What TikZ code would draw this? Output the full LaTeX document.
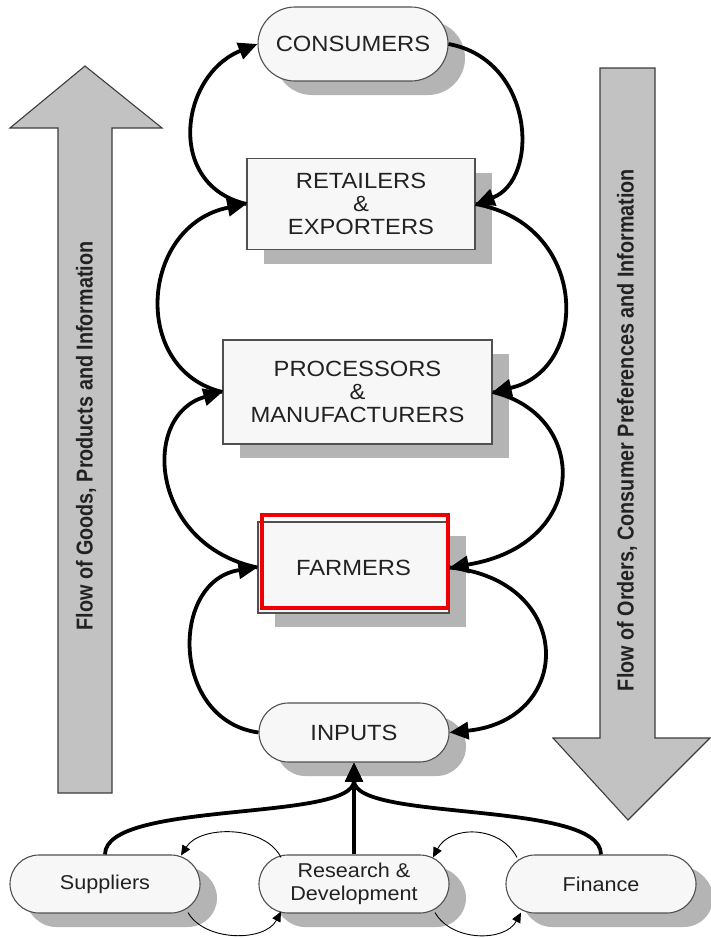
\documentclass[tikz,border=0pt]{standalone}
\usepackage{fontspec}
\setmainfont{Liberation Sans}[FakeStretch=1.08]
\newfontfamily\flowfont{Liberation Sans}[FakeStretch=0.86]
\usetikzlibrary{arrows.meta,shapes.misc,shadows,calc}
\definecolor{nodefill}{HTML}{F7F7F7}
\definecolor{nodeline}{HTML}{505050}
\definecolor{shadowgray}{HTML}{B4B4B4}
\definecolor{bigfill}{HTML}{C2C2C2}
\definecolor{bigline}{HTML}{3C3C3C}
\definecolor{txt}{HTML}{222222}
\definecolor{redframe}{HTML}{EE0000}
\tikzset{
  boxshadow/.style={drop shadow={shadow xshift=17pt, shadow yshift=-14pt, fill=shadowgray, opacity=1}},
  pill/.style={rounded rectangle, draw=nodeline, line width=1.1pt, fill=nodefill, text=txt, boxshadow,
    font=\fontsize{22}{23}\selectfont, align=center, inner sep=0pt},
  smallpill/.style={pill, font=\fontsize{20}{23}\selectfont, minimum width=190pt, minimum height=58pt,
    drop shadow={shadow xshift=15pt, shadow yshift=-12pt, fill=shadowgray, opacity=1}},
  sqbox/.style={rectangle, draw=nodeline, line width=1.1pt, fill=nodefill, text=txt, boxshadow,
    font=\fontsize{22}{23}\selectfont, align=center, inner sep=0pt},
  flow/.style={line width=3.8pt, -{Triangle[length=19pt,width=17pt]}},
  thin/.style={line width=0.9pt, -{Triangle[length=10pt,width=9pt]}},
  bigarrow/.style={fill=bigfill, draw=bigline, line width=1.1pt},
  flowtext/.style={rotate=90, text=txt, font=\flowfont\bfseries\fontsize{23}{25}\selectfont, inner sep=0pt}
}
\begin{document}
\begin{tikzpicture}[x=1pt,y=-1pt]
\useasboundingbox (0,0) rectangle (711,938);
\fill[white] (0,0) rectangle (711,938);

% big side arrows
\draw[bigarrow] (58,793) -- (58,128) -- (10,128) -- (85,66) -- (162,128) -- (112,128) -- (112,793) -- cycle;
\node[flowtext] (lefttext) at (86,436) {Flow of Goods, Products and Information};
\draw[bigarrow] (600,68) -- (655,68) -- (655,738) -- (710,738) -- (628,820) -- (553,738) -- (600,738) -- cycle;
\node[flowtext] (righttext) at (627,430) {Flow of Orders, Consumer Preferences and Information};

% nodes
\node[pill, minimum width=190pt, minimum height=74pt] (cons) at (353,44) {CONSUMERS};
\node[sqbox, minimum width=228pt, minimum height=91pt] (ret) at (361,204) {RETAILERS\\\&\\EXPORTERS};
\node[sqbox, minimum width=269pt, minimum height=104pt] (proc) at (357.5,392) {PROCESSORS\\\&\\MANUFACTURERS};
\node[sqbox, minimum width=191pt, minimum height=91pt] (farm) at (353.5,567.5) {FARMERS};
\draw[redframe, line width=4pt] ($(farm.north west)+(5,-6)$) rectangle ($(farm.south east)+(-2,-6)$);
\node[pill, minimum width=190pt, minimum height=59pt] (inp) at (354,732.5) {INPUTS};
\node[smallpill] (sup) at (105,884) {Suppliers};
\node[smallpill] (rd) at (354,884) {Research \&\\Development};
\node[smallpill] (fin) at (601,884) {Finance};

% upward flow (left side)
\draw[flow] (ret.west) .. controls (165,185) and (180,75) .. (cons.west);
\draw[flow] (proc.west) .. controls (130,370) and (140,225) .. (ret.west);
\draw[flow] (farm.west) .. controls (150,545) and (140,415) .. (proc.west);
\draw[flow] (inp.west) .. controls (170,720) and (170,580) .. (farm.west);

% downward flow (right side)
\draw[flow] (cons.east) .. controls (535,60) and (540,180) .. (ret.east);
\draw[flow] (ret.east) .. controls (590,225) and (590,370) .. (proc.east);
\draw[flow] (proc.east) .. controls (590,415) and (590,545) .. (farm.east);
\draw[flow] (farm.east) .. controls (575,580) and (575,720) .. (inp.east);

% bottom inputs
\draw[flow] (sup.north) .. controls (105,800) and (354,822) .. (inp.south);
\draw[flow] (rd.north) -- (inp.south);
\draw[flow] (fin.north) .. controls (601,800) and (354,822) .. (inp.south);

% thin exchange arrows
\draw[thin] ($(rd.north)+(-73,3)$) .. controls (265,825) and (200,825) .. ($(sup.north)+(76,1)$);
\draw[thin] ($(sup.south)+(83,-1)$) .. controls (205,942) and (265,942) .. ($(rd.south)+(-73,-2)$);
\draw[thin] ($(fin.north)+(-84,3)$) .. controls (500,825) and (450,825) .. ($(rd.north)+(79,3)$);
\draw[thin] ($(rd.south)+(81,-1)$) .. controls (452,942) and (505,942) .. ($(fin.south)+(-80,-1)$);
\end{tikzpicture}
\end{document}
